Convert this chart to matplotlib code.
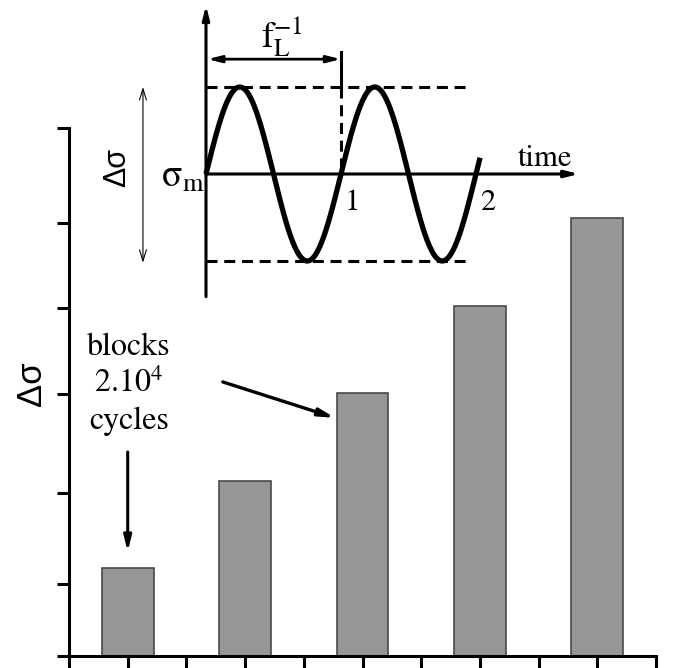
import numpy as np
import matplotlib
matplotlib.use("Agg")
import matplotlib.pyplot as plt

plt.rcParams['mathtext.fontset'] = 'stix'

# ---- data ----
bar_positions = [1, 3, 5, 7, 9]
bar_heights = [1, 2, 3, 4, 5]
xtick_positions = list(range(0, 11))
ytick_positions = [0, 0.82, 1.86, 2.99, 3.98, 4.95, 6.03]
block_label = ["blocks", r"2.10$^4$", "cycles"]
n_periods = 2.03

SERIF = 'STIXGeneral'
SANS = 'Liberation Sans'

W, H = 681, 668
fig = plt.figure(figsize=(W / 100, H / 100), dpi=100)

# ---- main bar axes ----
ax = fig.add_axes([69 / W, (H - 656) / H, (656 - 69) / W, (656 - 128) / H])
ax.bar(bar_positions, bar_heights, width=0.88, color='#969696',
       edgecolor='#4a4a4a', linewidth=1.2, zorder=2)
ax.set_xlim(0, 10)
ax.set_ylim(0, ytick_positions[-1])
ax.set_xticks(xtick_positions)
ax.set_yticks(ytick_positions)
ax.set_xticklabels([])
ax.set_yticklabels([])
for s in ['top', 'right']:
    ax.spines[s].set_visible(False)
for s in ['left', 'bottom']:
    ax.spines[s].set_linewidth(2.2)
ax.tick_params(direction='out', length=8.6, width=2.2, color='black')
ax.patch.set_alpha(0)

fig.text(31 / W, 1 - 384 / H, "Δσ", rotation=90,
         ha='center', va='center', fontsize=25, family=SANS)

# block annotation
for txt, yv in zip(block_label, [3.53, 3.11, 2.68]):
    ax.text(1.02, yv, txt, ha='center', va='center', fontsize=23, family=SERIF)
ax.annotate("", xy=(1.0, 1.19), xytext=(1.0, 2.33),
            arrowprops=dict(arrowstyle='-|>,head_length=0.9,head_width=0.22',
                            color='black', lw=2.2, shrinkA=0, shrinkB=0))
ax.annotate("", xy=(4.53, 2.72), xytext=(2.62, 3.13),
            arrowprops=dict(arrowstyle='-|>,head_length=0.9,head_width=0.22',
                            color='black', lw=2.4, shrinkA=0, shrinkB=0))

# ---- inset: sinusoidal loading ----
px0, px1, py0, py1 = 100, 590, 0, 300
t0_px, per_px, y0_px, amp_px = 206, 135, 174, 87
ins = fig.add_axes([px0 / W, (H - py1) / H, (px1 - px0) / W, (py1 - py0) / H])
ins.set_xlim((px0 - t0_px) / per_px, (px1 - t0_px) / per_px)
ins.set_ylim((y0_px - py1) / amp_px, (y0_px - py0) / amp_px)
ins.axis('off')
ins.patch.set_alpha(0)

t = np.linspace(0, n_periods, 400)
ins.plot(t, np.sin(2 * np.pi * t), color='black', lw=3.8, solid_capstyle='butt', zorder=3)

# axes arrows
ins.annotate("", xy=(0, 1.94), xytext=(0, -1.41),
             arrowprops=dict(arrowstyle='-|>,head_length=0.8,head_width=0.2',
                             color='black', lw=2.2, shrinkA=0, shrinkB=0))
ins.annotate("", xy=(2.763, 0), xytext=(0, 0),
             arrowprops=dict(arrowstyle='-|>,head_length=0.8,head_width=0.2',
                             color='black', lw=2.2, shrinkA=0, shrinkB=0))
# dashed amplitude lines
dash = (3.6, 2.2)
ins.plot([0, 1.94], [1, 1], color='black', lw=2.2, dashes=dash)
ins.plot([0, 1.94], [-1, -1], color='black', lw=2.2, dashes=dash)
ins.plot([1, 1], [1, 0], color='black', lw=2.2, dashes=dash)
ins.plot([1, 1], [1.40, 1], color='black', lw=2.2)
# period arrow
ins.annotate("", xy=(1, 1.32), xytext=(0.01, 1.32),
             arrowprops=dict(arrowstyle='<|-|>,head_length=0.8,head_width=0.2',
                             color='black', lw=2.0, shrinkA=0, shrinkB=0))
ins.text(0.56, 1.58, r"$\mathrm{f}_\mathrm{L}^{-1}$", ha='center', va='center', fontsize=26)
# delta sigma arrow
ins.annotate("", xy=(-0.467, -1.02), xytext=(-0.467, 1.0),
             arrowprops=dict(arrowstyle='<->,head_length=0.8,head_width=0.25',
                             color='black', lw=0.8, shrinkA=0, shrinkB=0))
ins.text(-0.66, 0.07, "Δσ", rotation=90, ha='center', va='center', fontsize=22, family=SANS)
ins.text(-0.01, -0.04, r"σ$_\mathrm{m}$", ha='right', va='center', fontsize=27, family=SERIF)
ins.text(2.51, 0.17, "time", ha='center', va='center', fontsize=22, family=SERIF)
ins.text(1.08, -0.33, "1", ha='center', va='center', fontsize=22, family=SERIF)
ins.text(2.09, -0.33, "2", ha='center', va='center', fontsize=22, family=SERIF)

fig.savefig("out.png", dpi=100)
